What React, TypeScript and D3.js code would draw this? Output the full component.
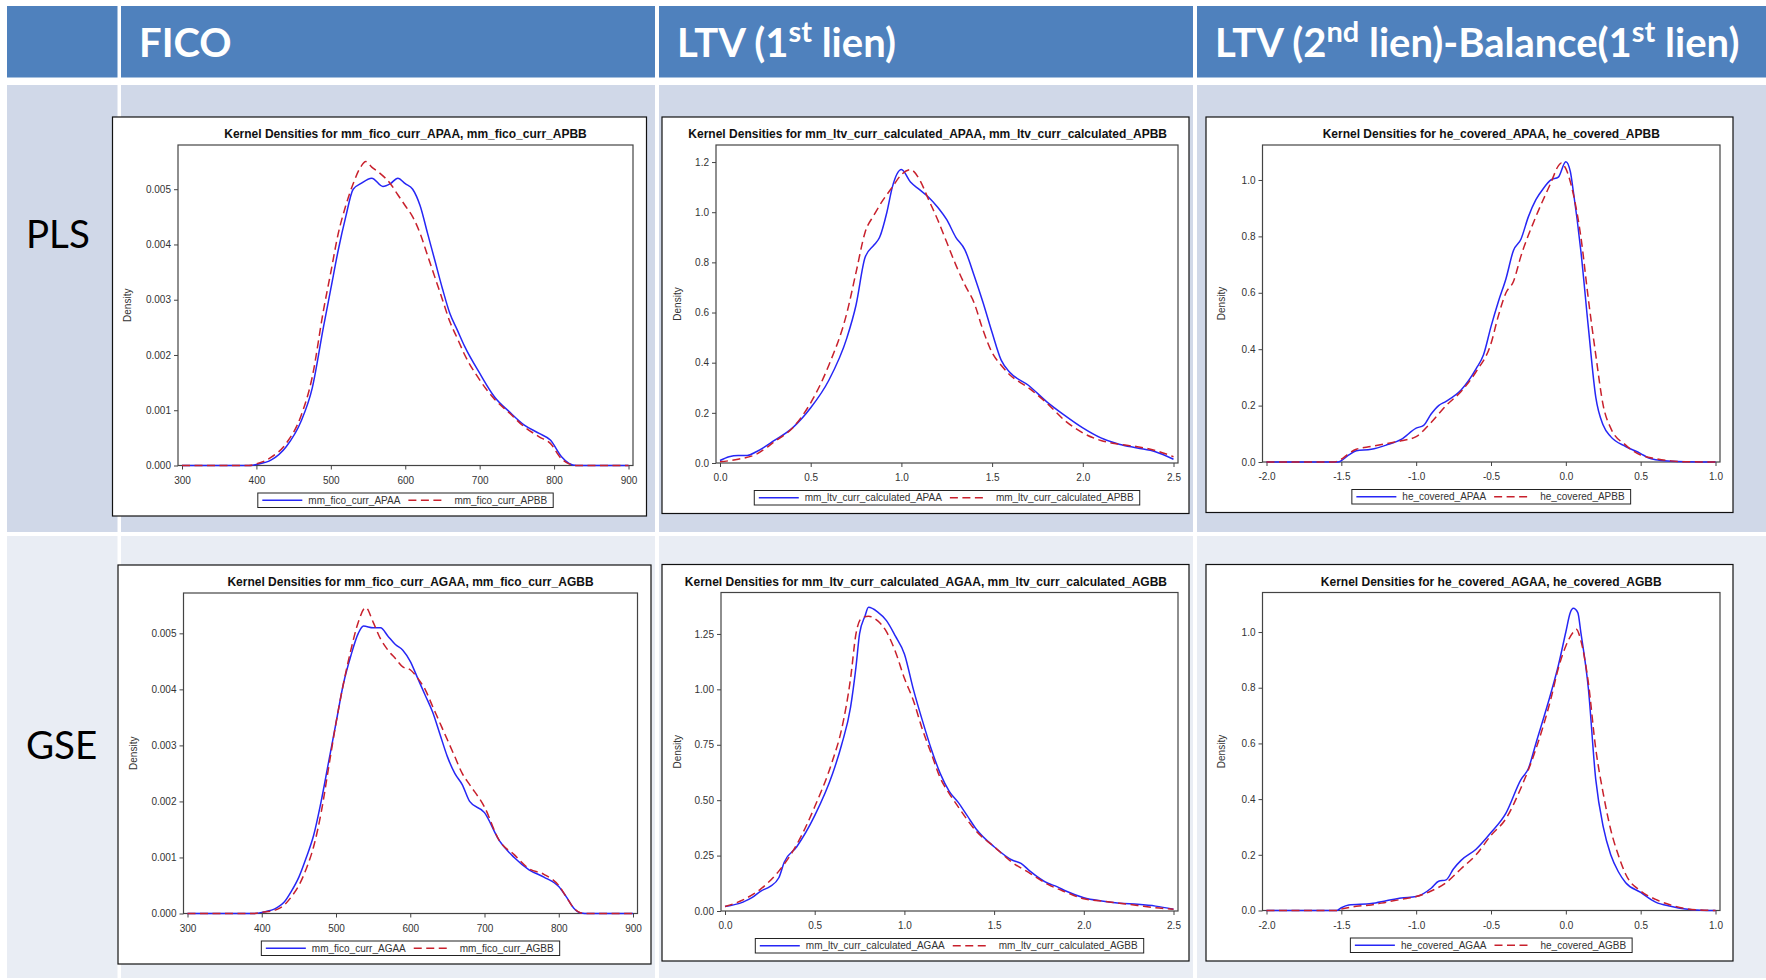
import React, { useEffect, useRef } from 'react';
import { axisBottom, axisLeft, curveMonotoneX, line, scaleLinear, select } from 'd3';

// slide table labels
const rowLabels = ['PLS', 'GSE'];
const columnHeaders = [
    [{ t: 'FICO' }],
    [{ t: 'LTV (1' }, { t: 'st', sup: true }, { t: ' lien)' }],
    [{ t: 'LTV (2' }, { t: 'nd', sup: true }, { t: ' lien)-Balance(1' }, { t: 'st', sup: true }, { t: ' lien)' }],
];

// axis ticks
const ficoTicks = [300, 400, 500, 600, 700, 800, 900];
const ficoDensityTicks = [0, 0.001, 0.002, 0.003, 0.004, 0.005];
const ltvTicks = [0, 0.5, 1.0, 1.5, 2.0, 2.5];
const ltvPlsDensityTicks = [0, 0.2, 0.4, 0.6, 0.8, 1.0, 1.2];
const ltvGseDensityTicks = [0, 0.25, 0.5, 0.75, 1.0, 1.25];
const heTicks = [-2.0, -1.5, -1.0, -0.5, 0, 0.5, 1.0];
const heDensityTicks = [0, 0.2, 0.4, 0.6, 0.8, 1.0];

// PLS - FICO
const ficoApaa = [[300, 0], [390, 0], [400, 0.00002], [420, 0.0001], [440, 0.00034], [460, 0.0008], [475, 0.0014], [490, 0.0025], [500, 0.0032], [510, 0.0039], [520, 0.0045], [530, 0.005], [540, 0.0051], [555, 0.0052], [570, 0.00505], [580, 0.0051], [590, 0.0052], [600, 0.0051], [610, 0.005], [620, 0.0047], [630, 0.0042], [640, 0.0037], [650, 0.0032], [660, 0.00275], [670, 0.00245], [680, 0.00215], [700, 0.00167], [720, 0.00124], [740, 0.00097], [760, 0.00073], [780, 0.00058], [795, 0.00046], [810, 0.00016], [820, 0.00004], [830, 0], [900, 0]];
const ficoApbb = [[300, 0], [390, 0], [400, 0.00003], [420, 0.00015], [440, 0.0004], [460, 0.0009], [475, 0.0016], [490, 0.0028], [500, 0.0035], [510, 0.0042], [520, 0.0047], [530, 0.0051], [540, 0.0054], [547, 0.0055], [555, 0.0054], [565, 0.0053], [580, 0.0051], [590, 0.0049], [600, 0.0047], [610, 0.0045], [620, 0.0042], [630, 0.0038], [640, 0.0034], [650, 0.003], [660, 0.0026], [670, 0.0023], [680, 0.002], [700, 0.00155], [720, 0.0012], [740, 0.00095], [760, 0.0007], [780, 0.00052], [795, 0.0004], [810, 0.00012], [820, 0.00003], [830, 0], [900, 0]];

// PLS - LTV
const ltvApaa = [[0, 0.01], [0.05, 0.025], [0.1, 0.03], [0.15, 0.03], [0.2, 0.045], [0.3, 0.09], [0.4, 0.14], [0.5, 0.22], [0.6, 0.33], [0.7, 0.5], [0.75, 0.63], [0.8, 0.82], [0.85, 0.87], [0.88, 0.9], [0.92, 1.0], [0.95, 1.1], [1.0, 1.17], [1.05, 1.12], [1.1, 1.09], [1.15, 1.06], [1.2, 1.02], [1.25, 0.97], [1.3, 0.9], [1.35, 0.85], [1.4, 0.75], [1.45, 0.64], [1.5, 0.52], [1.55, 0.41], [1.6, 0.36], [1.7, 0.31], [1.8, 0.245], [1.9, 0.19], [2.0, 0.14], [2.1, 0.1], [2.2, 0.075], [2.3, 0.06], [2.4, 0.045], [2.5, 0.015]];
const ltvApbb = [[0, 0.005], [0.1, 0.015], [0.2, 0.035], [0.3, 0.085], [0.4, 0.14], [0.5, 0.24], [0.6, 0.39], [0.7, 0.6], [0.75, 0.76], [0.8, 0.92], [0.85, 0.99], [0.9, 1.05], [0.95, 1.1], [1.0, 1.15], [1.05, 1.17], [1.1, 1.13], [1.15, 1.05], [1.2, 0.97], [1.25, 0.88], [1.3, 0.79], [1.35, 0.71], [1.4, 0.64], [1.45, 0.53], [1.5, 0.44], [1.55, 0.39], [1.6, 0.35], [1.7, 0.3], [1.8, 0.24], [1.9, 0.17], [2.0, 0.12], [2.1, 0.09], [2.2, 0.075], [2.3, 0.065], [2.4, 0.05], [2.5, 0.025]];

// PLS - he_covered
const heApaa = [[-2.0, 0], [-1.52, 0], [-1.5, 0.005], [-1.45, 0.025], [-1.4, 0.04], [-1.3, 0.045], [-1.2, 0.06], [-1.1, 0.08], [-1.0, 0.12], [-0.95, 0.13], [-0.9, 0.17], [-0.85, 0.2], [-0.8, 0.215], [-0.7, 0.255], [-0.6, 0.33], [-0.55, 0.38], [-0.5, 0.48], [-0.45, 0.57], [-0.4, 0.65], [-0.35, 0.75], [-0.3, 0.79], [-0.25, 0.87], [-0.2, 0.93], [-0.15, 0.97], [-0.1, 1.0], [-0.05, 1.01], [0, 1.065], [0.03, 1.03], [0.05, 0.96], [0.1, 0.75], [0.15, 0.48], [0.2, 0.23], [0.25, 0.13], [0.3, 0.09], [0.4, 0.055], [0.5, 0.03], [0.55, 0.015], [0.6, 0.008], [0.7, 0.003], [0.8, 0.001], [1.0, 0]];
const heApbb = [[-2.0, 0], [-1.55, 0], [-1.5, 0.01], [-1.45, 0.03], [-1.4, 0.045], [-1.3, 0.055], [-1.2, 0.065], [-1.1, 0.075], [-1.0, 0.09], [-0.9, 0.14], [-0.8, 0.2], [-0.7, 0.25], [-0.6, 0.32], [-0.5, 0.42], [-0.45, 0.52], [-0.4, 0.6], [-0.35, 0.64], [-0.3, 0.73], [-0.2, 0.87], [-0.1, 0.99], [-0.05, 1.05], [-0.03, 1.06], [0, 1.04], [0.05, 0.95], [0.1, 0.8], [0.15, 0.58], [0.2, 0.38], [0.25, 0.2], [0.3, 0.12], [0.4, 0.06], [0.5, 0.025], [0.6, 0.012], [0.7, 0.004], [0.8, 0.001], [1.0, 0]];

// GSE - FICO
const ficoAgaa = [[300, 0], [390, 0], [400, 0.00002], [420, 0.0001], [430, 0.0002], [440, 0.0004], [450, 0.00065], [460, 0.001], [470, 0.0014], [480, 0.002], [490, 0.0027], [500, 0.0034], [510, 0.0041], [520, 0.0046], [530, 0.005], [537, 0.00513], [550, 0.0051], [560, 0.0051], [570, 0.00495], [580, 0.0048], [590, 0.0047], [600, 0.0045], [610, 0.0042], [620, 0.0039], [630, 0.0036], [640, 0.0032], [650, 0.0028], [660, 0.0025], [670, 0.0023], [680, 0.002], [700, 0.0018], [720, 0.0013], [740, 0.001], [760, 0.00078], [780, 0.00065], [800, 0.00048], [810, 0.0003], [820, 0.0001], [830, 0.00001], [840, 0], [900, 0]];
const ficoAgbb = [[300, 0], [390, 0], [400, 0.00002], [420, 0.00007], [430, 0.00015], [440, 0.0003], [450, 0.0005], [460, 0.0008], [470, 0.0012], [480, 0.0018], [490, 0.0026], [500, 0.0034], [510, 0.0041], [520, 0.0047], [530, 0.0052], [540, 0.00546], [550, 0.0052], [560, 0.0049], [570, 0.0047], [580, 0.00455], [590, 0.0044], [600, 0.00435], [610, 0.0042], [620, 0.004], [630, 0.0037], [640, 0.0034], [650, 0.0031], [660, 0.0028], [670, 0.0025], [680, 0.0023], [700, 0.0019], [720, 0.0013], [740, 0.00105], [760, 0.0008], [780, 0.0007], [800, 0.0005], [810, 0.0003], [820, 0.0001], [830, 0.00001], [840, 0], [900, 0]];

// GSE - LTV
const ltvAgaa = [[0, 0.02], [0.1, 0.04], [0.15, 0.06], [0.2, 0.09], [0.25, 0.11], [0.3, 0.15], [0.33, 0.22], [0.4, 0.29], [0.5, 0.43], [0.6, 0.62], [0.65, 0.75], [0.7, 0.92], [0.73, 1.1], [0.75, 1.25], [0.78, 1.33], [0.8, 1.37], [0.85, 1.35], [0.9, 1.31], [0.95, 1.24], [1.0, 1.16], [1.05, 1.0], [1.1, 0.86], [1.15, 0.73], [1.2, 0.62], [1.25, 0.54], [1.3, 0.49], [1.35, 0.43], [1.4, 0.37], [1.5, 0.29], [1.6, 0.23], [1.65, 0.215], [1.7, 0.18], [1.8, 0.125], [1.85, 0.11], [1.9, 0.09], [2.0, 0.06], [2.1, 0.045], [2.2, 0.035], [2.3, 0.03], [2.4, 0.022], [2.5, 0.008]];
const ltvAgbb = [[0, 0.02], [0.1, 0.05], [0.2, 0.1], [0.3, 0.18], [0.4, 0.3], [0.5, 0.47], [0.6, 0.68], [0.65, 0.82], [0.7, 1.05], [0.73, 1.25], [0.76, 1.32], [0.8, 1.33], [0.85, 1.31], [0.9, 1.26], [0.95, 1.17], [1.0, 1.05], [1.05, 0.95], [1.1, 0.82], [1.15, 0.71], [1.2, 0.6], [1.25, 0.53], [1.3, 0.47], [1.4, 0.36], [1.5, 0.29], [1.6, 0.22], [1.7, 0.17], [1.8, 0.12], [1.9, 0.085], [2.0, 0.055], [2.1, 0.045], [2.2, 0.035], [2.3, 0.025], [2.4, 0.015], [2.5, 0.008]];

// GSE - he_covered
const heAgaa = [[-2.0, 0], [-1.53, 0], [-1.5, 0.01], [-1.45, 0.02], [-1.3, 0.025], [-1.2, 0.035], [-1.1, 0.045], [-1.0, 0.05], [-0.9, 0.08], [-0.85, 0.105], [-0.8, 0.11], [-0.75, 0.15], [-0.7, 0.18], [-0.6, 0.22], [-0.5, 0.28], [-0.4, 0.35], [-0.3, 0.47], [-0.25, 0.51], [-0.2, 0.6], [-0.1, 0.78], [-0.05, 0.88], [0, 1.0], [0.03, 1.07], [0.05, 1.085], [0.08, 1.07], [0.1, 1.0], [0.15, 0.8], [0.2, 0.47], [0.25, 0.3], [0.3, 0.2], [0.35, 0.14], [0.4, 0.1], [0.5, 0.065], [0.6, 0.03], [0.7, 0.015], [0.8, 0.005], [0.9, 0.001], [1.0, 0]];
const heAgbb = [[-2.0, 0], [-1.53, 0], [-1.5, 0.005], [-1.4, 0.015], [-1.3, 0.02], [-1.2, 0.03], [-1.1, 0.04], [-1.0, 0.05], [-0.9, 0.07], [-0.8, 0.1], [-0.7, 0.15], [-0.6, 0.2], [-0.5, 0.27], [-0.4, 0.33], [-0.3, 0.44], [-0.2, 0.58], [-0.1, 0.76], [-0.05, 0.87], [0, 0.95], [0.05, 1.0], [0.07, 1.01], [0.1, 0.97], [0.15, 0.82], [0.2, 0.58], [0.25, 0.42], [0.3, 0.29], [0.35, 0.2], [0.4, 0.13], [0.5, 0.07], [0.6, 0.04], [0.7, 0.02], [0.8, 0.007], [0.9, 0.002], [1.0, 0]];

const BLUE = '#2626f5';
const RED = '#c8202c';
const SAS_FONT = "'Liberation Sans', Arial, sans-serif";
const SLIDE_FONT = "Lato, 'Open Sans', sans-serif";

// panel layout in page pixels
const panels = [
    { box: [112.5, 117, 534, 399], frame: [178, 145, 455, 320.5], xDom: [300, 900], yTop: 0.0058, xTicks: ficoTicks, yTicks: ficoDensityTicks, xDec: 0, yDec: 3, a: ficoApaa, b: ficoApbb, names: ['mm_fico_curr_APAA', 'mm_fico_curr_APBB'] },
    { box: [662, 117, 527, 396.5], frame: [716, 145, 462, 318], xDom: [0, 2.5], yTop: 1.268, xTicks: ltvTicks, yTicks: ltvPlsDensityTicks, xDec: 1, yDec: 1, a: ltvApaa, b: ltvApbb, names: ['mm_ltv_curr_calculated_APAA', 'mm_ltv_curr_calculated_APBB'] },
    { box: [1206, 117, 527, 395.5], frame: [1262.5, 145, 457.5, 317], xDom: [-2, 1], yTop: 1.124, xTicks: heTicks, yTicks: heDensityTicks, xDec: 1, yDec: 1, a: heApaa, b: heApbb, names: ['he_covered_APAA', 'he_covered_APBB'] },
    { box: [118, 565, 533, 399], frame: [183.5, 593, 454, 320.5], xDom: [300, 900], yTop: 0.00572, xTicks: ficoTicks, yTicks: ficoDensityTicks, xDec: 0, yDec: 3, a: ficoAgaa, b: ficoAgbb, names: ['mm_fico_curr_AGAA', 'mm_fico_curr_AGBB'] },
    { box: [662, 564.5, 527, 396.5], frame: [721, 592.5, 457, 318.5], xDom: [0, 2.5], yTop: 1.437, xTicks: ltvTicks, yTicks: ltvGseDensityTicks, xDec: 1, yDec: 2, a: ltvAgaa, b: ltvAgbb, names: ['mm_ltv_curr_calculated_AGAA', 'mm_ltv_curr_calculated_AGBB'] },
    { box: [1206, 564.5, 527, 396.5], frame: [1262.5, 592.5, 457.5, 318], xDom: [-2, 1], yTop: 1.142, xTicks: heTicks, yTicks: heDensityTicks, xDec: 1, yDec: 1, a: heAgaa, b: heAgbb, names: ['he_covered_AGAA', 'he_covered_AGBB'] },
];

const drawPanel = (svg, p) => {
    const [bx, by, bw, bh] = p.box;
    const [fx, fy, fw, fh] = p.frame;
    const g = svg.append('g').attr('class', 'panel');

    g.append('rect').attr('x', bx).attr('y', by).attr('width', bw).attr('height', bh)
        .attr('fill', '#fff').attr('stroke', '#111').attr('stroke-width', 1.2);

    const xScale = scaleLinear().domain(p.xDom).range([fx + 4, fx + fw - 4.5]);
    const yScale = scaleLinear().domain([0, p.yTop]).range([fy + fh, fy]);

    // axes
    const xAxis = axisBottom(xScale).tickValues(p.xTicks).tickSize(4).tickPadding(7)
        .tickFormat(d => (+d).toFixed(p.xDec));
    const yAxis = axisLeft(yScale).tickValues(p.yTicks).tickSize(4).tickPadding(3)
        .tickFormat(d => (+d).toFixed(p.yDec));

    const xg = g.append('g').attr('transform', `translate(0,${fy + fh})`).call(xAxis);
    const yg = g.append('g').attr('transform', `translate(${fx},0)`).call(yAxis);
    [xg, yg].forEach(a => {
        a.select('.domain').remove();
        a.selectAll('line').attr('stroke', '#444');
        a.selectAll('text').attr('fill', '#333').style('font-family', SAS_FONT).style('font-size', '10px');
    });

    g.append('rect').attr('x', fx).attr('y', fy).attr('width', fw).attr('height', fh)
        .attr('fill', 'none').attr('stroke', '#444').attr('stroke-width', 1.2);

    // title, kept inside the panel box
    const title = g.append('text')
        .attr('y', by + 21)
        .attr('text-anchor', 'middle')
        .style('font-family', SAS_FONT).style('font-size', '12px').style('font-weight', 'bold')
        .attr('fill', '#111')
        .text(`Kernel Densities for ${p.names[0]}, ${p.names[1]}`);
    const tw = title.node().getComputedTextLength();
    let tx = fx + fw / 2;
    if (tx + tw / 2 > bx + bw - 22) tx = bx + bw - 22 - tw / 2;
    if (tx - tw / 2 < bx + 22) tx = bx + 22 + tw / 2;
    title.attr('x', tx);

    g.append('text')
        .attr('transform', `translate(${bx + 18.5},${fy + fh / 2}) rotate(-90)`)
        .attr('text-anchor', 'middle')
        .style('font-family', SAS_FONT).style('font-size', '10px')
        .attr('fill', '#333')
        .text('Density');

    // curves
    const curve = line().x(d => xScale(d[0])).y(d => yScale(d[1])).curve(curveMonotoneX);
    g.append('path').attr('d', curve(p.a)).attr('fill', 'none').attr('stroke', BLUE).attr('stroke-width', 1.5);
    g.append('path').attr('d', curve(p.b)).attr('fill', 'none').attr('stroke', RED).attr('stroke-width', 1.5)
        .attr('stroke-dasharray', '8,4.5');

    // legend
    const leg = g.append('g');
    const ly = fy + fh + 27.5;
    const lh = 14.5;
    const t1 = leg.append('text').attr('y', ly + 10.5).style('font-family', SAS_FONT).style('font-size', '10px').attr('fill', '#333').text(p.names[0]);
    const t2 = leg.append('text').attr('y', ly + 10.5).style('font-family', SAS_FONT).style('font-size', '10px').attr('fill', '#333').text(p.names[1]);
    const w1 = t1.node().getComputedTextLength();
    const w2 = t2.node().getComputedTextLength();
    const lw = 4.5 + 40 + 6 + w1 + 8 + 37 + 9 + w2 + 6;
    const lx = fx + fw / 2 - lw / 2;
    leg.insert('rect', 'text').attr('x', lx).attr('y', ly).attr('width', lw).attr('height', lh)
        .attr('fill', '#fff').attr('stroke', '#222').attr('stroke-width', 1);
    leg.append('line').attr('x1', lx + 4.5).attr('x2', lx + 44.5).attr('y1', ly + lh / 2).attr('y2', ly + lh / 2)
        .attr('stroke', BLUE).attr('stroke-width', 1.5);
    t1.attr('x', lx + 50.5);
    const rx = lx + 50.5 + w1 + 8;
    leg.append('line').attr('x1', rx).attr('x2', rx + 37).attr('y1', ly + lh / 2).attr('y2', ly + lh / 2)
        .attr('stroke', RED).attr('stroke-width', 1.5).attr('stroke-dasharray', '8,4.5');
    t2.attr('x', rx + 46);
};

const App = () => {
    const svgRef = useRef(null);

    useEffect(() => {
        const svg = select(svgRef.current);
        svg.selectAll('*').remove();

        // table background
        const colX = [[7, 110.5], [121, 534], [659, 534], [1197, 569]];
        const rowsY = [[85, 447], [536, 442]];
        const rowFill = ['#d0d8e8', '#e9edf4'];

        colX.forEach(([x, w]) => {
            svg.append('rect').attr('x', x).attr('y', 6).attr('width', w).attr('height', 71.5).attr('fill', '#4f81bd');
        });
        rowsY.forEach(([y, h], i) => {
            colX.forEach(([x, w]) => {
                svg.append('rect').attr('x', x).attr('y', y).attr('width', w).attr('height', h).attr('fill', rowFill[i]);
            });
        });

        // column headers
        columnHeaders.forEach((parts, i) => {
            const t = svg.append('text')
                .attr('x', colX[i + 1][0] + 18)
                .attr('y', 57)
                .attr('fill', '#fff')
                .style('font-family', SLIDE_FONT).style('font-size', '40px').style('font-weight', 'bold');
            let raised = false;
            parts.forEach(part => {
                const s = t.append('tspan').text(part.t);
                if (part.sup && !raised) { s.attr('dy', -15).style('font-size', '29px'); raised = true; }
                else if (!part.sup && raised) { s.attr('dy', 15); raised = false; }
            });
        });

        // row labels
        rowLabels.forEach((label, i) => {
            svg.append('text')
                .attr('x', 26)
                .attr('y', i === 0 ? 248 : 759)
                .attr('fill', '#000')
                .style('font-family', SLIDE_FONT).style('font-size', '38.5px')
                .text(label);
        });

        panels.forEach(p => drawPanel(svg, p));
    }, []);

    return (
        <svg ref={svgRef} width={1766} height={980}
             style={{ position: 'absolute', left: 0, top: 0, background: '#fff' }} />
    );
};

export default App;
